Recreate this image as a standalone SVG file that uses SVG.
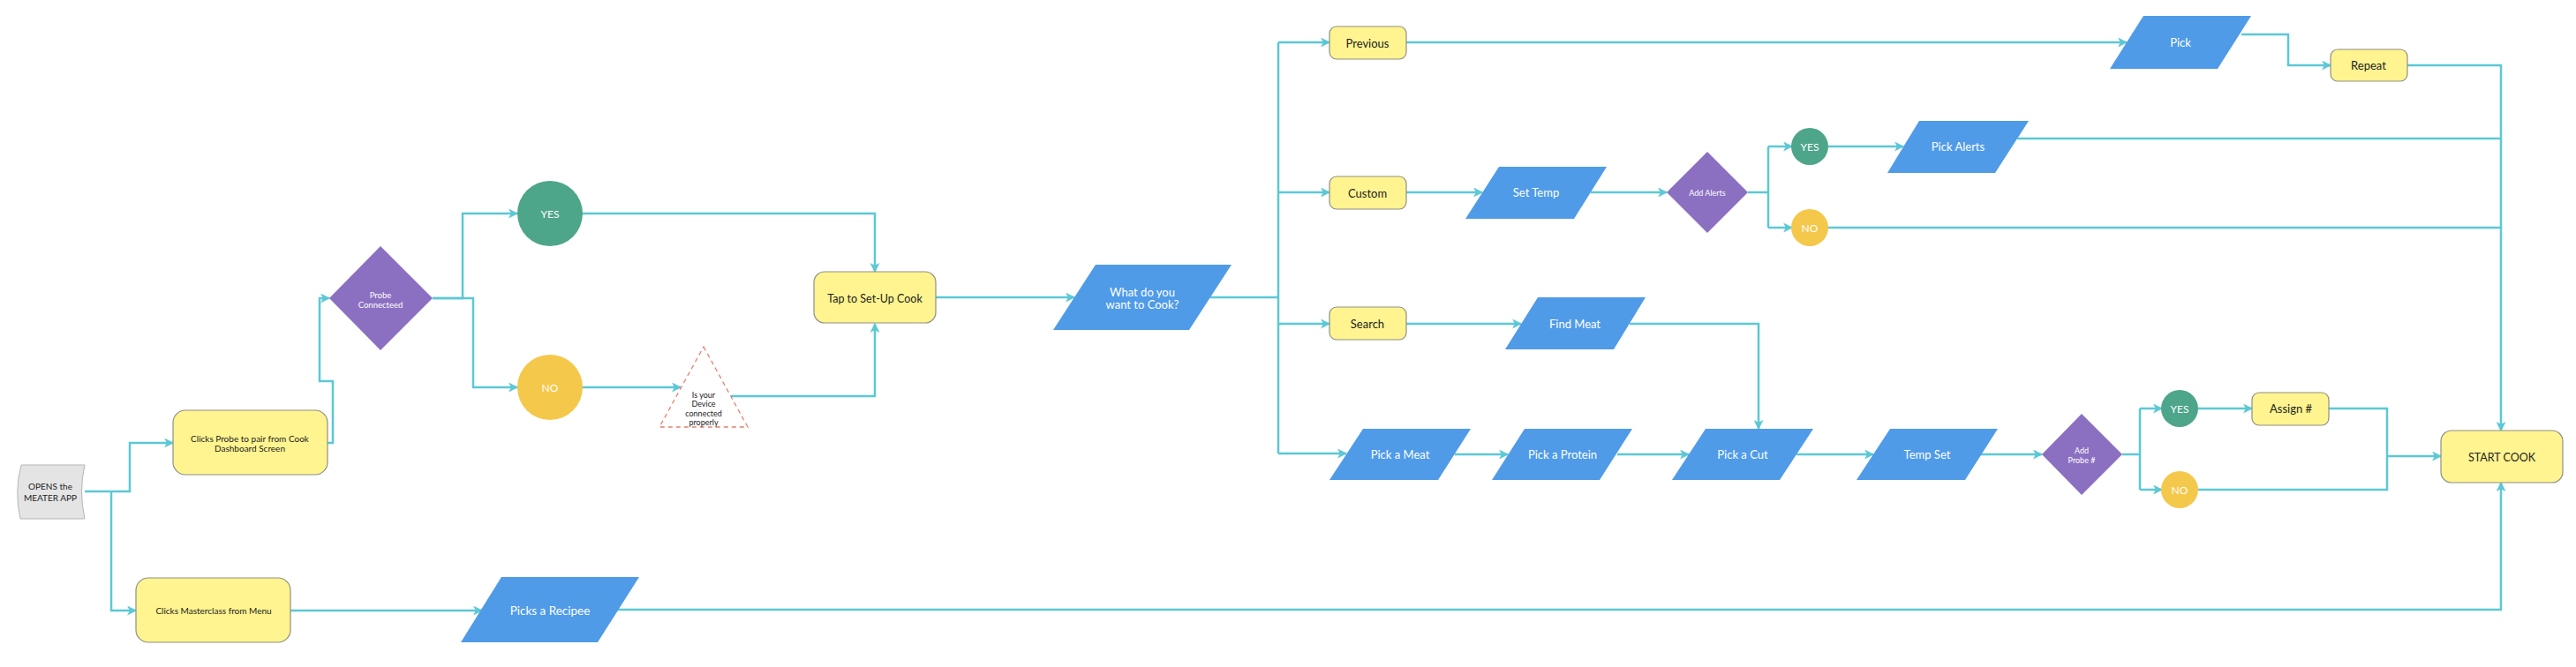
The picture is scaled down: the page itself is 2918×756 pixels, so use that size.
<svg xmlns="http://www.w3.org/2000/svg" width="2918" height="756" viewBox="0 0 2918 756">
<defs>
<marker id="ah" viewBox="0 0 10 10" refX="9" refY="5" markerWidth="11" markerHeight="11" markerUnits="userSpaceOnUse" orient="auto"><path d="M0,0 L10,5 L0,10 L2.5,5 z" fill="#5cc8d5"/></marker>
</defs>
<style>
.box{fill:#fff48f;stroke:#8f8f84;stroke-width:1.2}
.para{fill:#4f9be8}
.dia{fill:#8b70c2}
.yes{fill:#4da58a}
.no{fill:#f4c84a}
.c{fill:none;stroke:#5cc8d5;stroke-width:2.5}
.a{marker-end:url(#ah)}
text{font-family:Lato,"Liberation Sans",sans-serif;text-anchor:middle;dominant-baseline:central}
.dk{fill:#222}
.wt{fill:#fff}
</style>
<rect width="2918" height="756" fill="#fff"/>

<g id="connectors">
<path class="c a" d="M96,557 H147 V502 H196"/>
<path class="c a" d="M126,557 V692 H154"/>
<path class="c a" d="M371,502 H377 V432 H362 V338 H373"/>
<path class="c a" d="M490,338 H524 V242 H586"/>
<path class="c a" d="M490,338 H536 V439 H586"/>
<path class="c a" d="M659,242 H991 V308"/>
<path class="c a" d="M659,439 H771"/>
<path class="c a" d="M828,449 H991 V367"/>
<path class="c a" d="M1060,337 H1217"/>
<path class="c" d="M1371,337 H1448"/>
<path class="c" d="M1448,48 V514"/>
<path class="c a" d="M1448,48 H1506"/>
<path class="c a" d="M1448,218 H1506"/>
<path class="c a" d="M1448,367 H1506"/>
<path class="c a" d="M1448,514 H1525"/>
<path class="c a" d="M1593,48 H2409"/>
<path class="c a" d="M2539,39 H2592 V74 H2640"/>
<path class="c a" d="M2727,74 H2833 V488"/>
<path class="c a" d="M1593,218 H1679"/>
<path class="c a" d="M1802,218 H1888"/>
<path class="c" d="M1980,218 H2003"/>
<path class="c" d="M2003,166 V258"/>
<path class="c a" d="M2003,166 H2030"/>
<path class="c a" d="M2003,258 H2030"/>
<path class="c a" d="M2071,166 H2156"/>
<path class="c" d="M2285,157 H2833"/>
<path class="c" d="M2071,258 H2833"/>
<path class="c a" d="M1593,367 H1723"/>
<path class="c a" d="M1846,367 H1992 V486"/>
<path class="c a" d="M1648,515 H1708"/>
<path class="c a" d="M1832,515 H1913"/>
<path class="c a" d="M2035,515 H2122"/>
<path class="c a" d="M2244,515 H2313"/>
<path class="c" d="M2404,515 H2424"/>
<path class="c" d="M2424,463 V555"/>
<path class="c a" d="M2424,463 H2449"/>
<path class="c a" d="M2424,555 H2449"/>
<path class="c a" d="M2490,463 H2551"/>
<path class="c" d="M2638,463 H2704 V555 H2490"/>
<path class="c a" d="M2704,517 H2765"/>
<path class="c a" d="M329,692 H546"/>
<path class="c a" d="M699,691 H2833 V547"/>
</g>

<g id="opens">
<path d="M24,527 L96,527 Q89,557 96,588 L23,588 Q16,557 24,527 Z" fill="#e5e4e5" stroke="#b5b5b5" stroke-width="1"/>
<text x="57" y="551" font-size="10" class="dk">OPENS the</text>
<text x="57" y="564" font-size="10" class="dk">MEATER APP</text>
</g>

<g id="clicks-probe">
<rect class="box" x="196" y="465" width="175" height="73" rx="14"/>
<text x="283" y="497" font-size="10" class="dk">Clicks Probe to pair from Cook</text>
<text x="283" y="508" font-size="10" class="dk">Dashboard Screen</text>
</g>

<g id="masterclass">
<rect class="box" x="154" y="655" width="175" height="73" rx="14"/>
<text x="242" y="692" font-size="10" class="dk">Clicks Masterclass from Menu</text>
</g>

<g id="probe-connected">
<polygon class="dia" points="431,279 490,338 431,397 373,338"/>
<text x="431" y="334" font-size="9.5" class="wt">Probe</text>
<text x="431" y="345" font-size="9.5" class="wt">Connecteed</text>
</g>

<g id="yes1">
<ellipse class="yes" cx="623" cy="242" rx="37" ry="37"/>
<text x="623" y="242" font-size="12" class="wt">YES</text>
</g>

<g id="no1">
<ellipse class="no" cx="623" cy="439" rx="37" ry="37"/>
<text x="623" y="439" font-size="12" class="wt">NO</text>
</g>

<g id="device-check">
<polygon points="797,393 847,484 747,484" fill="none" stroke="#e8806e" stroke-width="1.3" stroke-dasharray="5,4"/>
<text x="797" y="447" font-size="9" class="dk">Is your</text>
<text x="797" y="457" font-size="9" class="dk">Device</text>
<text x="797" y="468" font-size="9" class="dk">connected</text>
<text x="797" y="478" font-size="9" class="dk">properly</text>
</g>

<g id="tap-setup">
<rect class="box" x="922" y="308" width="138" height="58" rx="12"/>
<text x="991" y="338" font-size="12.5" class="dk">Tap to Set-Up Cook</text>
</g>

<g id="what-cook">
<polygon class="para" points="1241,300 1395,300 1347,374 1193,374"/>
<text x="1294" y="331" font-size="13" class="wt">What do you</text>
<text x="1294" y="345" font-size="13" class="wt">want to Cook?</text>
</g>

<g id="previous">
<rect class="box" x="1506" y="30" width="87" height="37" rx="8"/>
<text x="1549" y="49" font-size="13" class="dk">Previous</text>
</g>

<g id="custom">
<rect class="box" x="1506" y="200" width="87" height="37" rx="8"/>
<text x="1549" y="219" font-size="13" class="dk">Custom</text>
</g>

<g id="search">
<rect class="box" x="1506" y="348" width="87" height="37" rx="8"/>
<text x="1549" y="367" font-size="13" class="dk">Search</text>
</g>

<g id="pick">
<polygon class="para" points="2428,18 2550,18 2512,78 2390,78"/>
<text x="2470" y="48" font-size="13" class="wt">Pick</text>
</g>

<g id="repeat">
<rect class="box" x="2640" y="56" width="87" height="36" rx="8"/>
<text x="2683" y="74" font-size="13" class="dk">Repeat</text>
</g>

<g id="set-temp">
<polygon class="para" points="1698,189 1820,189 1783,248 1660,248"/>
<text x="1740" y="218" font-size="13" class="wt">Set Temp</text>
</g>

<g id="add-alerts">
<polygon class="dia" points="1934,172 1980,218 1934,264 1888,218"/>
<text x="1934" y="218" font-size="9" class="wt">Add Alerts</text>
</g>

<g id="yes2">
<ellipse class="yes" cx="2050" cy="166" rx="21" ry="21"/>
<text x="2050" y="166" font-size="12" class="wt">YES</text>
</g>

<g id="no2">
<ellipse class="no" cx="2050" cy="258" rx="21" ry="21"/>
<text x="2050" y="258" font-size="12" class="wt">NO</text>
</g>

<g id="pick-alerts">
<polygon class="para" points="2174,137 2298,137 2260,196 2138,196"/>
<text x="2218" y="166" font-size="13" class="wt">Pick Alerts</text>
</g>

<g id="find-meat">
<polygon class="para" points="1742,337 1864,337 1828,396 1705,396"/>
<text x="1784" y="367" font-size="13" class="wt">Find Meat</text>
</g>

<g id="pick-meat">
<polygon class="para" points="1544,486 1666,486 1629,544 1506,544"/>
<text x="1586" y="515" font-size="13" class="wt">Pick a Meat</text>
</g>

<g id="pick-protein">
<polygon class="para" points="1727,486 1849,486 1812,544 1690,544"/>
<text x="1770" y="515" font-size="13" class="wt">Pick a Protein</text>
</g>

<g id="pick-cut">
<polygon class="para" points="1932,486 2054,486 2016,544 1894,544"/>
<text x="1974" y="515" font-size="13" class="wt">Pick a Cut</text>
</g>

<g id="temp-set">
<polygon class="para" points="2141,486 2263,486 2226,544 2103,544"/>
<text x="2183" y="515" font-size="13" class="wt">Temp Set</text>
</g>

<g id="add-probe">
<polygon class="dia" points="2358,469 2404,515 2358,561 2313,515"/>
<text x="2358" y="510" font-size="9" class="wt">Add</text>
<text x="2358" y="521" font-size="9" class="wt">Probe #</text>
</g>

<g id="yes3">
<ellipse class="yes" cx="2469" cy="463" rx="21" ry="21"/>
<text x="2469" y="463" font-size="12" class="wt">YES</text>
</g>

<g id="no3">
<ellipse class="no" cx="2469" cy="555" rx="21" ry="21"/>
<text x="2469" y="555" font-size="12" class="wt">NO</text>
</g>

<g id="assign">
<rect class="box" x="2551" y="445" width="87" height="37" rx="8"/>
<text x="2595" y="463" font-size="13" class="dk">Assign #</text>
</g>

<g id="start-cook">
<rect class="box" x="2765" y="488" width="138" height="59" rx="12"/>
<text x="2834" y="518" font-size="12.5" class="dk">START COOK</text>
</g>

<g id="picks-recipee">
<polygon class="para" points="568,654 724,654 677,728 522,728"/>
<text x="623" y="692" font-size="13.5" class="wt">Picks a Recipee</text>
</g>
</svg>
